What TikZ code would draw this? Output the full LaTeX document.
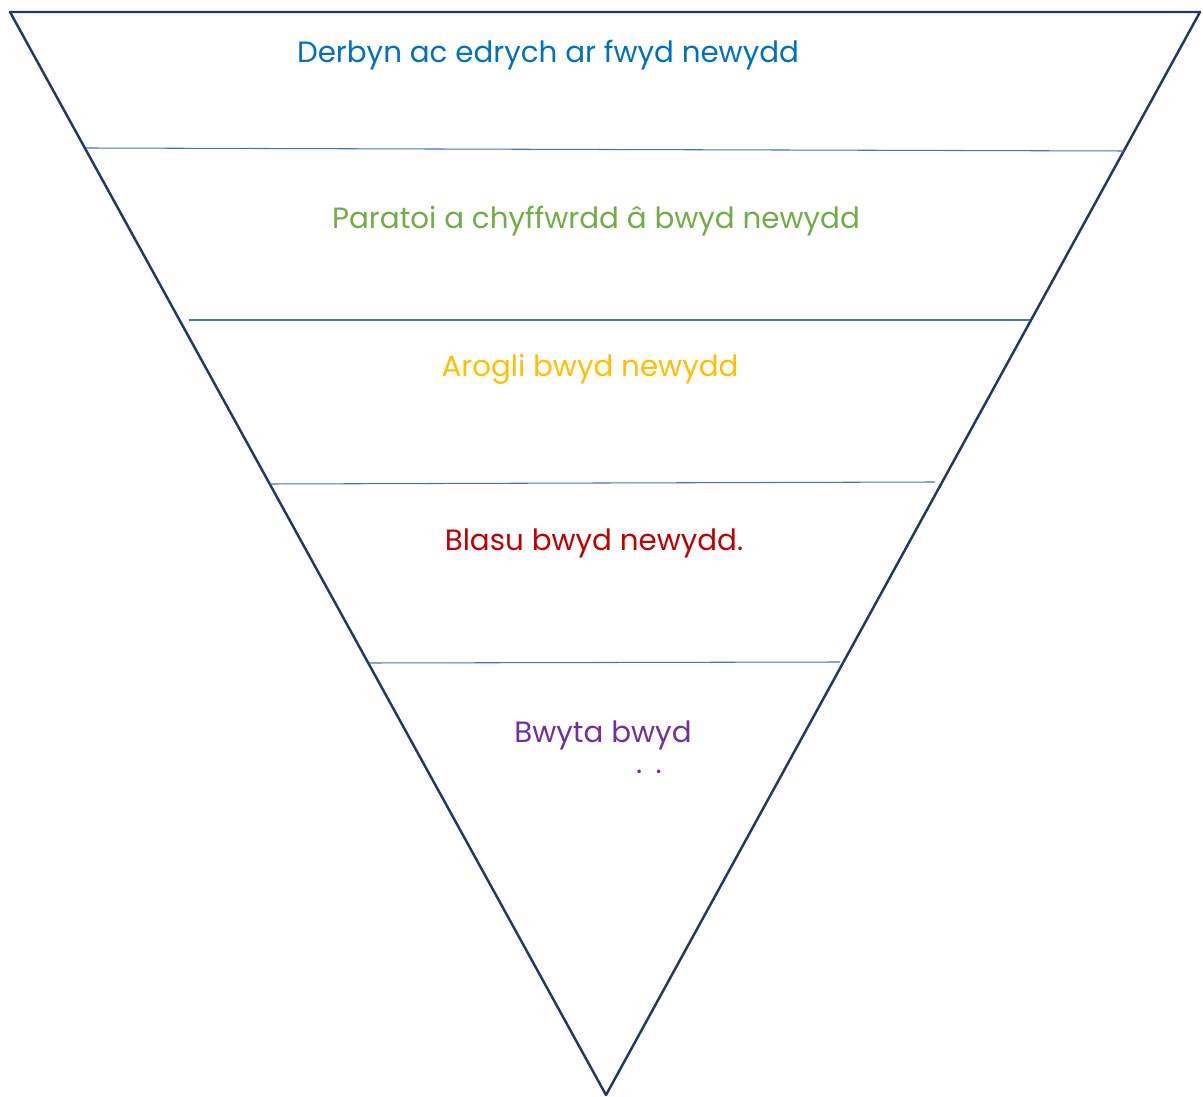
\documentclass[tikz,border=0pt]{standalone}
\usepackage{fontspec}
\setmainfont{Poppins}
\usepackage{tikz}
\usetikzlibrary{positioning,calc}
\definecolor{navyline}{RGB}{31, 56, 100}
\definecolor{bandline}{RGB}{68, 114, 196}
\definecolor{stepblue}{RGB}{0, 112, 192}
\definecolor{stepgreen}{RGB}{112, 173, 71}
\definecolor{stepgold}{RGB}{255, 192, 0}
\definecolor{stepred}{RGB}{192, 0, 0}
\definecolor{steppurple}{RGB}{112, 48, 160}

\begin{document}
\begin{tikzpicture}[x=0.02cm,y=-0.02cm,
        steplabel/.style={font=\fontsize{16.7}{20}\selectfont,inner sep=0pt}]
        \useasboundingbox (0,0) rectangle (1203,1097);

        % Funnel
        \coordinate (topL) at (10,12);
        \coordinate (topR) at (1200,12);
        \coordinate (apex) at (606,1095);
        \draw[navyline,line width=1.4pt,line join=round] (topL) -- (topR) -- (apex) -- cycle;

        % Bands
        \coordinate (b1L) at (86,148);  \coordinate (b1R) at (1124,151);
        \coordinate (b2L) at (189,320); \coordinate (b2R) at (1030,320);
        \coordinate (b3L) at (270,484); \coordinate (b3R) at (935,482);
        \coordinate (b4L) at (369,663); \coordinate (b4R) at (840,662);
        \foreach \i in {1,...,4}
            \draw[bandline,line width=0.6pt] (b\i L) -- (b\i R);

        % Labels
        \node[steplabel,stepblue] (derbyn) at (548,55) {Derbyn ac edrych ar fwyd newydd};
        \node[steplabel,stepgreen] (paratoi) at (596,221) {Paratoi a chyffwrdd â bwyd newydd};
        \node[steplabel,stepgold] (arogli) at (590,369) {Arogli bwyd newydd};
        \node[steplabel,stepred] (blasu) at (594,543) {Blasu bwyd newydd.};
        \node[steplabel,steppurple] (bwyta) at (603,735) {Bwyta bwyd};
        \node[steplabel,steppurple,anchor=base] (dots) at (649,773) {.\hspace{0.45em}.};

\end{tikzpicture}
\end{document}
